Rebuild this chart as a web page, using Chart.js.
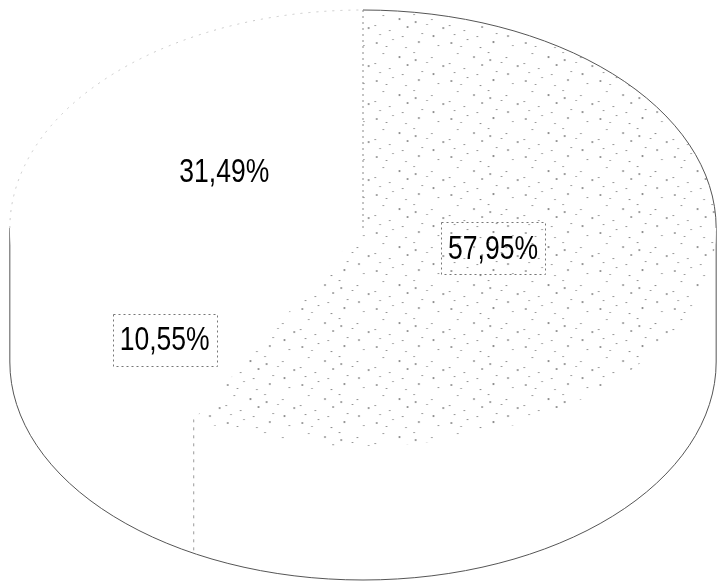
<!DOCTYPE html>
<html>
<head>
<meta charset="utf-8">
<script src="https://cdn.jsdelivr.net/npm/chart.js@4.4.0/dist/chart.umd.min.js"></script>
<style>
  html, body { margin: 0; padding: 0; background: #fff; }
  #pie { display: block; }
</style>
</head>
<body>
<canvas id="pie" width="718" height="585"></canvas>
<script>
// Slices, clockwise from 12 o'clock
const segments = ['Segmento 1', 'Segmento 2', 'Segmento 3'];
const shares = [57.95, 10.55, 31.49];

// label placement (fraction of radius from the centre) and dashed frame
const labelDist = [0.38, 0.76, 0.47];
const labelBoxed = [true, true, false];

const SQUASH_X = 1.62;  // horizontal stretch of the tilted disc
const DEPTH = 134;      // thickness of the 3D side
const NARROW = 0.78;    // condensed label font

// grey dotted texture of the big slice
function speckle() {
    const c = document.createElement('canvas');
    c.width = 46; c.height = 38;
    const g = c.getContext('2d');
    g.fillStyle = '#ffffff';
    g.fillRect(0, 0, 46, 38);
    const dots = [[3,4],[13,1],[21,9],[29,3],[41,7],[7,15],[17,18],[26,14],[37,19],[44,27],
                  [2,25],[11,30],[22,26],[31,33],[19,36],[38,35],[9,8],[34,24],[27,21],[5,34]];
    g.fillStyle = '#8f8f8f';
    dots.forEach(([x, y], i) => g.fillRect(x, y, 1, i % 3 === 0 ? 2 : 1));
    return g.createPattern(c, 'repeat');
}

function fmt(v) {
    return v.toFixed(2).replace('.', ',') + '%';
}

const tilt3d = {
    id: 'tilt3d',
    beforeDatasetsDraw(chart) {
        const ctx = chart.ctx;
        const arcs = chart.getDatasetMeta(0).data;
        const cx = arcs[0].x, cy = arcs[0].y, r = arcs[0].outerRadius;
        const rx = r * SQUASH_X;

        // side wall
        ctx.save();
        ctx.beginPath();
        ctx.moveTo(cx - rx, cy);
        ctx.lineTo(cx - rx, cy + DEPTH);
        ctx.ellipse(cx, cy + DEPTH, rx, r, 0, Math.PI, 0, true);
        ctx.lineTo(cx + rx, cy);
        ctx.fillStyle = '#ffffff';
        ctx.fill();
        ctx.strokeStyle = '#555';
        ctx.lineWidth = 1;
        ctx.stroke();

        // slice edges on the visible side (ones close to the outline merge into it)
        ctx.setLineDash([3, 5]);
        ctx.strokeStyle = '#999';
        arcs.forEach(a => {
            const s = a.startAngle;
            if (Math.sin(s) > 0.05 && Math.abs(Math.cos(s)) < 0.9) {
                const x = cx + rx * Math.cos(s);
                const y = cy + r * Math.sin(s);
                ctx.beginPath();
                ctx.moveTo(x, y);
                ctx.lineTo(x, y + DEPTH);
                ctx.stroke();
            }
        });
        ctx.restore();

        // top face drawn squashed
        ctx.save();
        ctx.translate(cx, cy);
        ctx.scale(SQUASH_X, 1);
        ctx.translate(-cx, -cy);
    },
    afterDatasetsDraw(chart) {
        const ctx = chart.ctx;
        ctx.restore();
        const arcs = chart.getDatasetMeta(0).data;
        const cx = arcs[0].x, cy = arcs[0].y, r = arcs[0].outerRadius;
        const rx = r * SQUASH_X;

        ctx.save();
        // back rim of the top face: faint on the left, firmer on the right
        ctx.lineWidth = 1;
        ctx.strokeStyle = '#c8c8c8';
        ctx.setLineDash([2, 6]);
        ctx.beginPath();
        ctx.ellipse(cx, cy, rx, r, 0, Math.PI, 1.5 * Math.PI);
        ctx.stroke();
        ctx.setLineDash([]);
        ctx.strokeStyle = '#555';
        ctx.beginPath();
        ctx.ellipse(cx, cy, rx, r, 0, 1.5 * Math.PI, 2 * Math.PI);
        ctx.stroke();

        // dividing line at 12 o'clock
        const s0 = arcs[0].startAngle;
        ctx.setLineDash([2, 4]);
        ctx.strokeStyle = '#888';
        ctx.beginPath();
        ctx.moveTo(cx, cy);
        ctx.lineTo(cx + rx * Math.cos(s0), cy + r * Math.sin(s0));
        ctx.stroke();

        // value labels
        ctx.font = "34px 'Liberation Sans', Arial, sans-serif";
        ctx.textAlign = 'center';
        ctx.textBaseline = 'middle';
        arcs.forEach((a, i) => {
            const mid = (a.startAngle + a.endAngle) / 2;
            const x = cx + rx * Math.cos(mid) * labelDist[i];
            const y = cy + r * Math.sin(mid) * labelDist[i];
            const txt = fmt(shares[i]);
            if (labelBoxed[i]) {
                const w = ctx.measureText(txt).width * NARROW + 14;
                const h = 52;
                ctx.setLineDash([2, 3]);
                ctx.strokeStyle = '#777';
                ctx.strokeRect(Math.round(x - w / 2) + 0.5, Math.round(y - h / 2) + 0.5, Math.round(w), h);
            }
            ctx.save();
            ctx.translate(x, y + 1);
            ctx.scale(NARROW, 1);
            ctx.fillStyle = '#000';
            ctx.fillText(txt, 0, 0);
            ctx.restore();
        });
        ctx.restore();
    }
};

new Chart(document.getElementById('pie'), {
    type: 'pie',
    data: {
        labels: segments,
        datasets: [{
            data: shares,
            backgroundColor: [speckle(), '#ffffff', '#ffffff'],
            borderWidth: 0,
            clip: false
        }]
    },
    options: {
        responsive: false,
        animation: false,
        layout: { padding: { top: 10, bottom: 139, left: 100, right: 92 } },
        plugins: {
            legend: { display: false },
            tooltip: { enabled: false }
        }
    },
    plugins: [tilt3d]
});
</script>
</body>
</html>
